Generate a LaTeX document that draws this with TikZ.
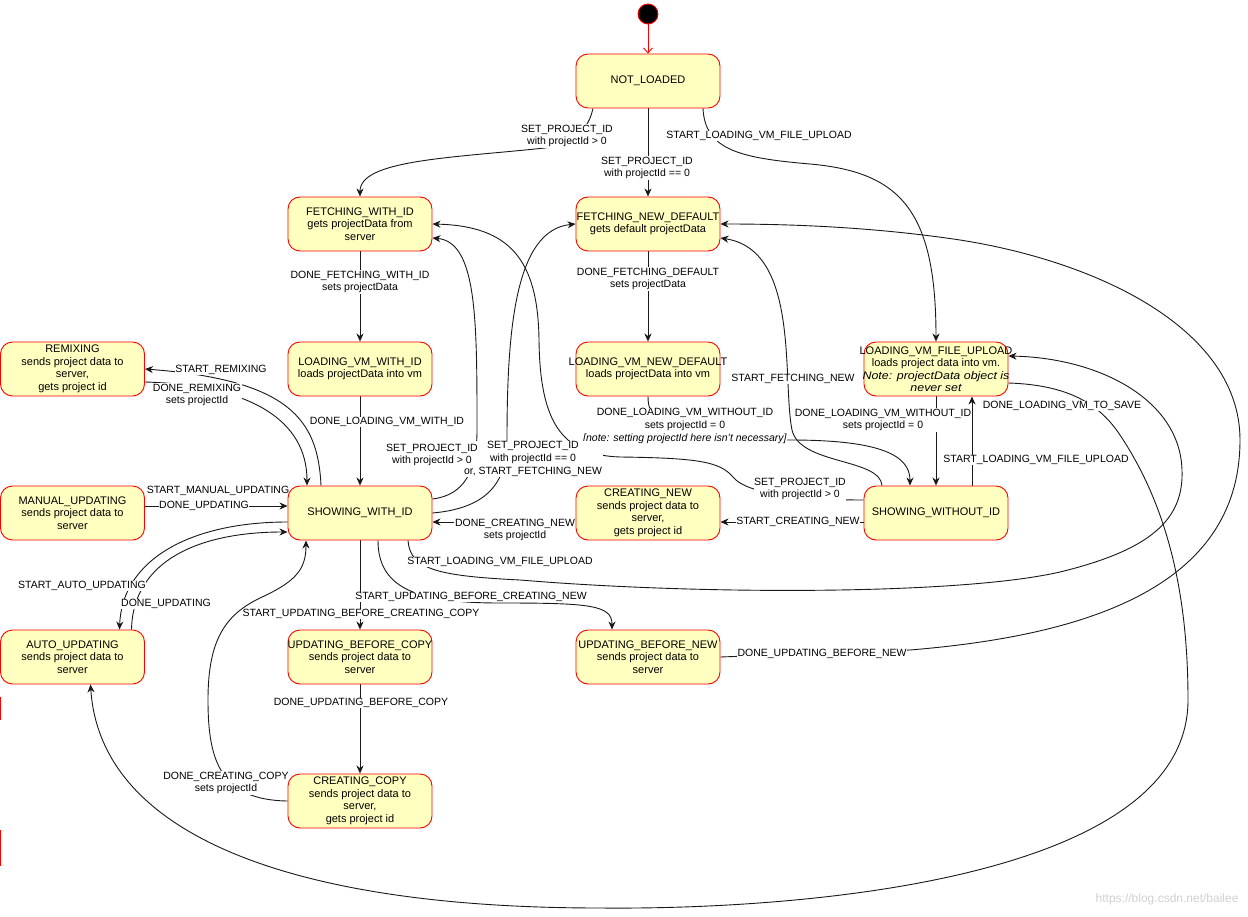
\documentclass[tikz,border=0pt]{standalone}
\usepackage{fontspec}
\usepackage{graphicx}
\setmainfont{Liberation Sans}
\usetikzlibrary{arrows.meta}
\definecolor{statefill}{HTML}{FFFFC0}
\definecolor{stateline}{HTML}{FF0000}
\newcommand\statefont{\fontsize{11}{12.5}\selectfont}
\newcommand\lblfont{\fontsize{10.5}{12.7}\selectfont}
\newcommand\wide[1]{\makebox[140pt]{#1}}
\newcommand\notetext[1]{\scalebox{1.13}[1]{\itshape #1}}
\pgfdeclarelayer{canvas}
\pgfdeclarelayer{wires}
\pgfsetlayers{canvas,wires,main}

\begin{document}
\begin{tikzpicture}[
        x=1pt,
        y=-1pt,
        state/.style={draw=stateline, fill=statefill, line width=0.9pt, rounded corners=12pt,
            minimum width=144pt, minimum height=54pt, inner sep=0pt, align=center, font=\statefont},
        edge/.style={draw=black!90, line width=0.9pt, -{Stealth[length=8pt,width=7pt,inset=2.5pt]}},
        lbl/.style={fill=white, inner sep=0.6pt, align=center, font=\lblfont}
    ]

    \begin{pgfonlayer}{canvas}
        \fill[white] (0,0) rectangle (1248,917);
    \end{pgfonlayer}
    \useasboundingbox (0,0) rectangle (1248,917);

    % states
    \node[circle, fill=black, draw=stateline, line width=0.9pt, minimum size=20pt, inner sep=0pt] (init) at (648,14) {};
    \node[state] (nl) at (648,81) {NOT\_LOADED};

    \node[state] (fwi) at (360,224) {FETCHING\_WITH\_ID\\gets projectData from\\server};
    \node[state] (fnd) at (648,224) {\wide{FETCHING\_NEW\_DEFAULT}\\gets default projectData};

    \node[state] (rmx) at (72.5,369) {REMIXING\\sends project data to\\server,\\gets project id};
    \node[state] (lvwi) at (360,369) {LOADING\_VM\_WITH\_ID\\loads projectData into vm};
    \node[state] (lvnd) at (648,369) {\wide{LOADING\_VM\_NEW\_DEFAULT}\\loads projectData into vm};
    \node[state] (lvfu) at (936,369) {\wide{LOADING\_VM\_FILE\_UPLOAD}\\\wide{loads project data into vm.}\\\wide{\notetext{Note: projectData object is}}\\\notetext{never set}};

    \node[state] (mu) at (72.5,513) {MANUAL\_UPDATING\\sends project data to\\server};
    \node[state] (swi) at (360,513) {SHOWING\_WITH\_ID};
    \node[state] (cn) at (648,513) {CREATING\_NEW\\sends project data to\\server,\\gets project id};
    \node[state] (swoid) at (936,513) {SHOWING\_WITHOUT\_ID};

    \node[state] (au) at (72.5,657) {AUTO\_UPDATING\\sends project data to\\server};
    \node[state] (ubc) at (360,657) {\wide{UPDATING\_BEFORE\_COPY}\\sends project data to\\server};
    \node[state] (ubn) at (648,657) {\wide{UPDATING\_BEFORE\_NEW}\\sends project data to\\server};

    \node[state] (cc) at (360,801) {CREATING\_COPY\\sends project data to\\server,\\gets project id};

    \begin{pgfonlayer}{wires}
        % start
        \draw[stateline, line width=0.9pt, -{Straight Barb[length=5pt,width=9pt]}] (init) -- (nl);

        % out of NOT_LOADED
        \draw[edge] ([xshift=-55pt]nl.south) .. controls (588,130) and (575,143) .. (545,148)
            .. controls (450,158) and (360,160) .. (fwi.north);
        \draw[edge] (nl.south) -- (fnd.north);
        \draw[edge] ([xshift=55pt]nl.south) .. controls (705,150) and (740,158) .. (810,164)
            .. controls (900,172) and (936,210) .. (lvfu.north);

        % fetching and loading
        \draw[edge] (fwi.south) -- (lvwi.north);
        \draw[edge] (fnd.south) -- (lvnd.north);
        \draw[edge] (lvwi.south) -- (swi.north);
        \draw[edge] (lvnd.south) .. controls (648,420) and (660,440) .. (790,440)
            .. controls (880,440) and (910,455) .. ([xshift=-26pt]swoid.north);
        \draw[edge] (lvfu.south) -- (swoid.north);
        \draw[edge] ([xshift=36pt]swoid.north) -- ([xshift=36pt]lvfu.south);
        \draw[edge] ([yshift=-14pt]lvfu.east) .. controls (1070,385) and (1100,405) .. (1120,435)
            .. controls (1170,510) and (1188,600) .. (1188,700)
            .. controls (1188,880) and (800,910) .. (600,908)
            .. controls (280,908) and (100,830) .. ([xshift=18pt]au.south);

        % out of SHOWING_WITHOUT_ID
        \draw[edge] ([xshift=-54pt]swoid.north) .. controls (880,458) and (800,465) .. (792,430)
            .. controls (782,380) and (800,250) .. ([yshift=-14pt]fnd.east);
        \draw[edge] ([yshift=13pt]swoid.west) .. controls (790,500) and (745,492) .. (733,477)
            .. controls (720,462) and (700,458) .. (620,457)
            .. controls (560,455) and (540,420) .. (539,340)
            .. controls (538,260) and (510,226) .. (fwi.east);
        \draw[edge] ([yshift=-9pt]swoid.west) -- ([yshift=-9pt]cn.east);
        \draw[edge] ([yshift=-9pt]cn.west) -- ([yshift=-9pt]swi.east);

        % out of SHOWING_WITH_ID, right
        \draw[edge] ([yshift=14pt]swi.east) .. controls (465,495) and (477,470) .. (477,430)
            .. controls (477,320) and (477,242) .. ([yshift=-14pt]fwi.east);
        \draw[edge] (swi.east) .. controls (490,508) and (507,480) .. (507,440)
            .. controls (507,330) and (515,230) .. (fnd.west);
        \draw[edge] ([xshift=48pt]swi.south) .. controls (410,570) and (440,576) .. (520,580)
            .. controls (700,595) and (960,595) .. (1060,572)
            .. controls (1150,550) and (1184,520) .. (1182,470)
            .. controls (1180,400) and (1100,358) .. ([yshift=13pt]lvfu.east);

        % updating before new / copy
        \draw[edge] (swi.south) -- (ubc.north);
        \draw[edge] ([xshift=18pt]swi.south) .. controls (378,590) and (420,603) .. (500,603)
            .. controls (590,603) and (612,605) .. ([xshift=-36pt]ubn.north);
        \draw[edge] (ubn.east) -- (910,650) .. controls (1080,636) and (1240,590) .. (1240,440)
            .. controls (1240,330) and (1100,262) .. (960,240)
            .. controls (880,228) and (800,224) .. (fnd.east);
        \draw[edge] (ubc.south) -- (cc.north);
        \draw[edge] (cc.west) .. controls (220,800) and (208,760) .. (208,700)
            .. controls (208,640) and (225,615) .. (260,598)
            .. controls (295,582) and (306,570) .. ([xshift=-54pt]swi.south);

        % left column
        \draw[edge] ([xshift=-39pt]swi.north) .. controls (318,420) and (290,380) .. (rmx.east);
        \draw[edge] ([yshift=-13pt]rmx.east) .. controls (250,385) and (307,420) .. ([xshift=-53pt]swi.north);
        \draw[edge] ([yshift=7pt]mu.east) -- ([yshift=7pt]swi.west);
        \draw[edge] ([yshift=-9pt]swi.west) .. controls (190,522) and (122,560) .. ([xshift=47pt]au.north);
        \draw[edge] ([xshift=59pt]au.north) .. controls (133,560) and (200,532) .. ([yshift=-19pt]swi.west);

        % labels
        \node[lbl] (lab1) at (567,136) {SET\_PROJECT\_ID\\with projectId > 0};
        \node[lbl] (lab2) at (647,168) {SET\_PROJECT\_ID\\with projectId == 0};
        \node[lbl] (lab3) at (759,136) {START\_LOADING\_VM\_FILE\_UPLOAD};
        \node[lbl] (lab4) at (360,282) {DONE\_FETCHING\_WITH\_ID\\sets projectData};
        \node[lbl] (lab5) at (648,279) {DONE\_FETCHING\_DEFAULT\\sets projectData};
        \node[lbl] (lab6) at (387,422) {DONE\_LOADING\_VM\_WITH\_ID};
        \node[lbl] (lab7) at (685,426) {DONE\_LOADING\_VM\_WITHOUT\_ID\\sets projectId = 0\\\textit{[note: setting projectId here isn't necessary]}};
        \node[lbl] (lab8) at (883,420) {DONE\_LOADING\_VM\_WITHOUT\_ID\\sets projectId = 0};
        \node[lbl] (lab9) at (1036,460) {START\_LOADING\_VM\_FILE\_UPLOAD};
        \node[lbl] (lab10) at (1062,406) {DONE\_LOADING\_VM\_TO\_SAVE};
        \node[lbl] (lab11) at (793,379) {START\_FETCHING\_NEW};
        \node[lbl] (lab12) at (822,654) {DONE\_UPDATING\_BEFORE\_NEW};
        \node[lbl] (lab13) at (471,597) {START\_UPDATING\_BEFORE\_CREATING\_NEW};
        \node[lbl] (lab14) at (361,614) {START\_UPDATING\_BEFORE\_CREATING\_COPY};
        \node[lbl] (lab15) at (361,703) {DONE\_UPDATING\_BEFORE\_COPY};
        \node[lbl] (lab16) at (226,783) {DONE\_CREATING\_COPY\\sets projectId};
        \node[lbl] (lab17) at (82,586) {START\_AUTO\_UPDATING};
        \node[lbl] (lab18) at (166,604) {DONE\_UPDATING};
        \node[lbl] (lab19) at (218,491) {START\_MANUAL\_UPDATING};
        \node[lbl] (lab20) at (204,506) {DONE\_UPDATING};
        \node[lbl] (lab21) at (221,370) {START\_REMIXING};
        \node[lbl] (lab22) at (197,395) {DONE\_REMIXING\\sets projectId};
        \node[lbl] (lab24) at (533,459) {SET\_PROJECT\_ID\\with projectId == 0\\or, START\_FETCHING\_NEW};
        \node[lbl, inner sep=0pt] (lab23) at (432,455) {SET\_PROJECT\_ID\\with projectId > 0};
        \node[lbl] (lab25) at (515,530) {DONE\_CREATING\_NEW\\sets projectId};
        \node[lbl] (lab26) at (798,522) {START\_CREATING\_NEW};
        \node[lbl] (lab27) at (800,489) {SET\_PROJECT\_ID\\with projectId > 0};
        \node[lbl] (lab28) at (500,562) {START\_LOADING\_VM\_FILE\_UPLOAD};
    \end{pgfonlayer}

    % edge marks and watermark
    \draw[stateline, line width=1.5pt] (0.7,697) -- (0.7,720);
    \draw[stateline, line width=1.5pt] (0.7,830) -- (0.7,866);
    \node[anchor=east, text=black!18, font=\fontsize{12}{14}\selectfont] (mark) at (1242,899) {https://blog.csdn.net/bailee};

\end{tikzpicture}
\end{document}
